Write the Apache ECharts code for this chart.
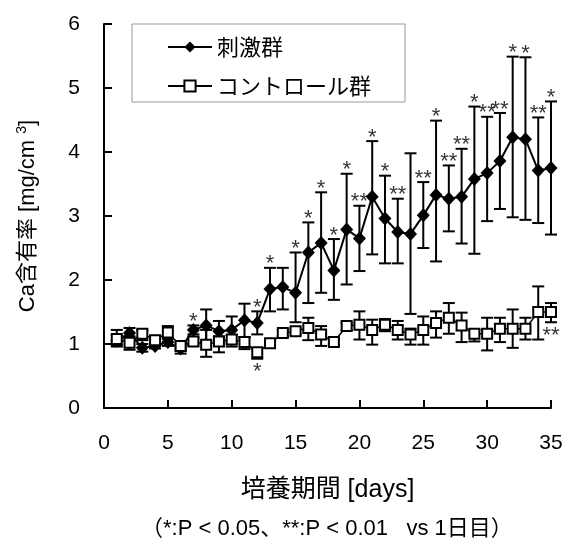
<!DOCTYPE html>
<html>
<head>
<meta charset="utf-8">
<script src="https://cdn.jsdelivr.net/npm/echarts@6/dist/echarts.min.js"></script>
<style>
  html, body { margin: 0; padding: 0; background: #fff; }
  #chart { width: 566px; height: 544px; }
</style>
</head>
<body>
<div id="chart"></div>
<script>
// culture days
const days = [1,2,3,4,5,6,7,8,9,10,11,12,13,14,15,16,17,18,19,20,21,22,23,24,25,26,27,28,29,30,31,32,33,34,35];

// 刺激群 : mean, error bar top / bottom
const stimMean = [1.05,1.17,0.94,0.97,1.03,0.93,1.22,1.29,1.20,1.22,1.37,1.33,1.86,1.89,1.80,2.43,2.58,2.15,2.79,2.65,3.30,2.96,2.75,2.72,3.01,3.33,3.27,3.30,3.58,3.67,3.86,4.23,4.20,3.71,3.75];
const stimHigh = [1.14,1.25,1.00,1.02,1.09,0.97,1.29,1.54,1.36,1.43,1.63,1.51,2.19,2.19,2.43,2.90,3.37,2.64,3.66,3.16,4.17,3.63,3.27,3.98,3.53,4.49,3.79,4.05,4.71,4.55,4.61,5.49,5.48,4.54,4.79];
const stimLow  = [0.96,1.08,0.88,0.93,0.97,0.89,1.15,1.04,1.04,1.01,1.11,1.15,1.51,1.54,1.34,1.64,1.80,1.69,1.93,2.14,2.40,2.26,2.26,1.47,2.50,2.29,2.76,2.57,2.41,2.92,3.11,2.98,2.94,2.89,2.71];
const stimSig  = ['','','','','','','*','','','','','*','*','','*','*','*','*','*','**','*','*','**','','**','*','**','**','*','**','**','*','*','**','*'];

// コントロール群
const ctrlMean = [1.08,1.02,1.16,1.06,1.18,0.97,1.04,0.99,1.04,1.07,1.03,0.87,1.01,1.17,1.20,1.25,1.15,1.03,1.28,1.30,1.22,1.30,1.22,1.15,1.22,1.33,1.41,1.29,1.16,1.16,1.24,1.24,1.24,1.50,1.50];
const ctrlHigh = [1.22,1.12,1.22,1.12,1.28,1.02,1.10,1.22,1.12,1.14,1.10,0.93,1.06,1.22,1.24,1.41,1.28,1.08,1.33,1.51,1.38,1.39,1.36,1.24,1.43,1.51,1.64,1.49,1.22,1.41,1.41,1.54,1.41,1.90,1.64];
const ctrlLow  = [0.98,0.91,1.06,1.00,1.08,0.85,0.98,0.80,0.87,0.96,0.92,0.77,0.96,1.12,1.15,1.06,0.97,0.98,1.22,1.07,0.99,1.20,1.07,0.99,0.99,1.10,1.16,1.03,1.04,0.90,1.03,0.94,1.07,1.07,1.34];
const ctrlSig  = ['','','','','','','','','','','','*','','','','','','','','','','','','','','','','','','','','','','','**'];

const xTicks = [0,5,10,15,20,25,30,35];
const yTicks = [0,1,2,3,4,5,6];

const jp = '"Noto Sans CJK JP", sans-serif';
const mixed = '"Liberation Sans", "Noto Sans CJK JP", sans-serif';
const num = '"Liberation Sans", Arial, sans-serif';

const chart = echarts.init(document.getElementById('chart'));

function errBar(params, api) {
  const x = api.value(0);
  const lo = api.coord([x, api.value(1)]);
  const hi = api.coord([x, api.value(2)]);
  const w = 6;
  const st = { stroke: '#000', lineWidth: 2 };
  return {
    type: 'group',
    children: [
      { type: 'line', shape: { x1: hi[0], y1: hi[1], x2: lo[0], y2: lo[1] }, style: st },
      { type: 'line', shape: { x1: hi[0] - w, y1: hi[1], x2: hi[0] + w, y2: hi[1] }, style: st },
      { type: 'line', shape: { x1: lo[0] - w, y1: lo[1], x2: lo[0] + w, y2: lo[1] }, style: st }
    ]
  };
}

const stimBars = days.map((d, i) => [d, stimLow[i], stimHigh[i]]);
const ctrlBars = days.map((d, i) => [d, ctrlLow[i], ctrlHigh[i]]);
const stimStars = [];
days.forEach((d, i) => { if (stimSig[i]) stimStars.push({ value: [d, stimHigh[i]], sig: stimSig[i] }); });
const ctrlStars = [];
days.forEach((d, i) => { if (ctrlSig[i]) ctrlStars.push({ value: [d, ctrlLow[i]], sig: ctrlSig[i] }); });

const starLabel = {
  show: true,
  formatter: p => p.data.sig,
  color: '#000',
  fontFamily: num,
  fontSize: 22
};

const option = {
  animation: false,
  backgroundColor: '#fff',
  grid: { left: 104, right: 15, top: 24, bottom: 136 },
  legend: {
    orient: 'vertical',
    left: 132,
    top: 24,
    padding: [12, 34, 5, 35],
    itemGap: 17,
    itemWidth: 44,
    itemHeight: 14,
    borderColor: '#999',
    borderWidth: 1,
    textStyle: { fontFamily: jp, fontSize: 22, color: '#000' },
    data: ['刺激群', 'コントロール群']
  },
  xAxis: {
    type: 'value',
    min: 0, max: 35, interval: 5,
    name: '培養期間 [days]',
    nameLocation: 'middle',
    nameGap: 70,
    nameTextStyle: { fontFamily: mixed, fontSize: 25, color: '#000' },
    axisLine: { lineStyle: { color: '#000', width: 2 } },
    axisTick: { inside: true, length: 8, lineStyle: { color: '#000', width: 2 } },
    axisLabel: { margin: 25, fontFamily: num, fontSize: 21, color: '#000',
      formatter: v => xTicks.includes(v) ? String(v) : '' },
    splitLine: { show: false }
  },
  yAxis: {
    type: 'value',
    min: 0, max: 6, interval: 1,
    name: 'Ca含有率 [mg/cm {sup|3}]',
    nameLocation: 'middle',
    nameGap: 63,
    nameTextStyle: { fontFamily: mixed, fontSize: 22, color: '#000',
      rich: { sup: { fontFamily: num, fontSize: 14, verticalAlign: 'top', padding: [0, 0, 12, 0] } } },
    axisLine: { show: true, lineStyle: { color: '#000', width: 2 } },
    axisTick: { show: true, inside: true, length: 8, lineStyle: { color: '#000', width: 2 } },
    axisLabel: { margin: 24, fontFamily: num, fontSize: 21, color: '#000',
      formatter: v => yTicks.includes(v) ? String(v) : '' },
    splitLine: { show: false }
  },
  graphic: [{
    type: 'text',
    left: 141,
    top: 518,
    style: { text: '（*:P < 0.05、**:P < 0.01   vs 1日目）', font: '22px ' + mixed, fill: '#000' }
  }],
  series: [
    { type: 'custom', name: 'stimErr', renderItem: errBar, data: stimBars, z: 2, silent: true },
    {
      type: 'line', name: '刺激群',
      data: days.map((d, i) => [d, stimMean[i]]),
      symbol: 'diamond', symbolSize: [13, 14],
      lineStyle: { color: '#000', width: 2 },
      itemStyle: { color: '#000' },
      z: 3
    },
    { type: 'custom', name: 'ctrlErr', renderItem: errBar, data: ctrlBars, z: 4, silent: true },
    {
      type: 'line', name: 'コントロール群',
      data: days.map((d, i) => [d, ctrlMean[i]]),
      symbol: 'rect', symbolSize: 10,
      lineStyle: { color: '#000', width: 1.5 },
      itemStyle: { color: '#fff', borderColor: '#000', borderWidth: 2 },
      z: 5
    },
    {
      type: 'scatter', name: 'stimStar', data: stimStars, symbolSize: 1,
      itemStyle: { color: 'transparent' },
      label: Object.assign({ position: 'top', distance: -8 }, starLabel),
      z: 6, silent: true
    },
    {
      type: 'scatter', name: 'ctrlStar', data: ctrlStars, symbolSize: 1,
      itemStyle: { color: 'transparent' },
      label: Object.assign({ position: 'bottom', distance: 2 }, starLabel),
      z: 6, silent: true
    }
  ]
};

chart.setOption(option);
</script>
</body>
</html>
